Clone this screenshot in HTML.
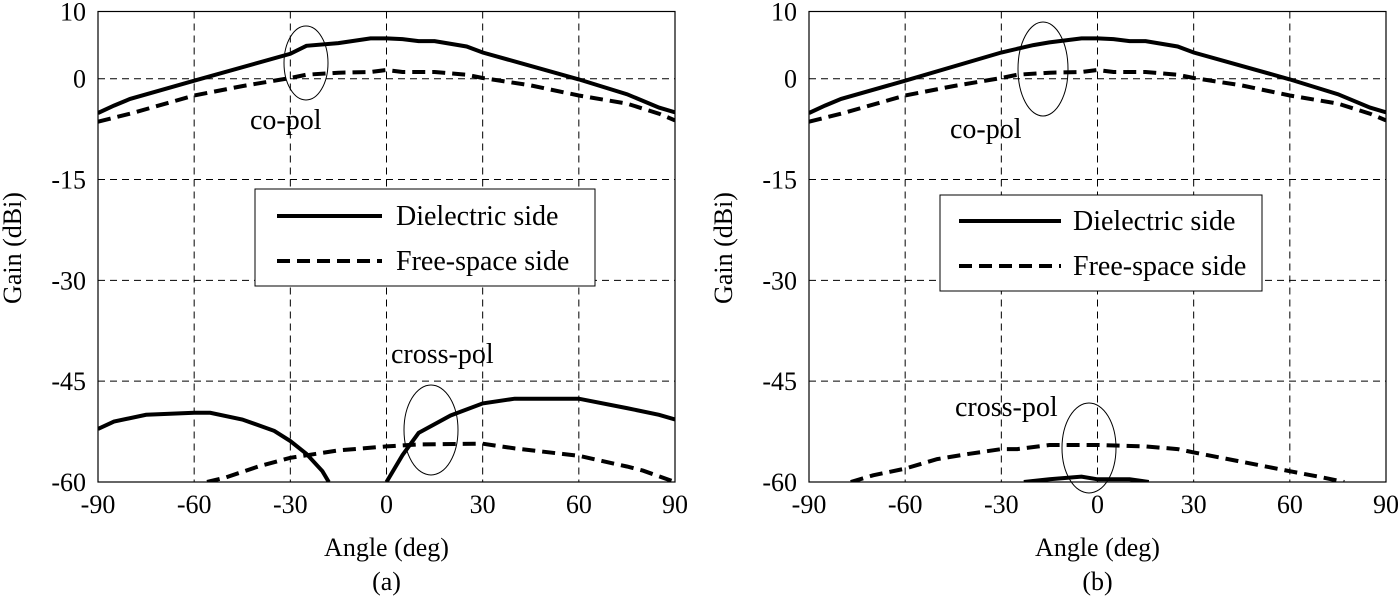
<!DOCTYPE html>
<html><head><meta charset="utf-8"><style>
html,body{margin:0;padding:0;background:#fff;}
svg{display:block;font-family:"Liberation Serif",serif;}
</style></head><body>
<svg id="chart" width="1400" height="600" viewBox="0 0 1400 600"></svg>
<script>
const angleTicks = [-90,-60,-30,0,30,60,90];
const gainTicks = [10,0,-15,-30,-45,-60];
// panel (a)
const aDielCoAng = [-90,-85,-80,-60,-30,-25,-15,-5,0,5,10,15,25,30,60,75,85,90];
const aDielCoVal = [-5.1,-4,-3,-0.3,3.7,4.9,5.3,6,6,5.9,5.6,5.6,4.8,3.9,-0.1,-2.3,-4.3,-5];
const aFreeCoAng = [-90,-80,-60,-45,-30,-25,-15,-5,0,5,15,25,30,45,60,75,85,90];
const aFreeCoVal = [-6.4,-5.2,-2.5,-1.1,0.1,0.6,0.9,1,1.3,1,1,0.6,0.1,-1,-2.5,-3.7,-5.2,-6.2];
const aDielX1Ang = [-90,-85,-75,-60,-55,-45,-35,-30,-25,-20,-18];
const aDielX1Val = [-52.1,-51,-50,-49.7,-49.7,-50.7,-52.4,-53.9,-55.8,-58.4,-60];
const aDielX2Ang = [0,5,10,20,30,40,60,75,85,90];
const aDielX2Val = [-60,-56,-52.7,-50.1,-48.3,-47.6,-47.6,-49,-50,-50.7];
const aFreeXAng = [-56,-50,-40,-30,-15,0,10,30,40,60,75,80,90];
const aFreeXVal = [-60,-59.3,-57.7,-56.4,-55.3,-54.7,-54.4,-54.3,-55,-56.1,-57.7,-58.3,-60];
// panel (b)
const bDielCoAng = [-90,-85,-80,-60,-30,-20,-15,-5,0,5,10,15,25,30,60,75,85,90];
const bDielCoVal = [-5.1,-4,-3,-0.3,3.9,5,5.4,6,6,5.9,5.6,5.6,4.8,3.9,-0.1,-2.3,-4.3,-5];
const bFreeCoAng = [-90,-80,-60,-45,-30,-25,-15,-5,0,5,15,25,30,45,60,75,85,90];
const bFreeCoVal = [-6.4,-5.2,-2.5,-1.1,0.1,0.6,0.9,1,1.3,1,1,0.6,0.1,-1,-2.5,-3.7,-5.2,-6.2];
const bFreeXAng = [-77,-70,-60,-50,-40,-30,-25,-15,0,15,25,30,45,60,70,77];
const bFreeXVal = [-60,-59,-58,-56.6,-55.8,-55.1,-55.1,-54.5,-54.5,-54.7,-55.1,-55.6,-57,-58.4,-59.3,-60];
const bDielXAng = [-23,-15,-5,0,10,16];
const bDielXVal = [-60,-59.6,-59.2,-59.6,-59.6,-60];

const NS="http://www.w3.org/2000/svg";
const svg=document.getElementById('chart');
function mk(tag,attrs,parent,text){const e=document.createElementNS(NS,tag);for(const k in attrs)e.setAttribute(k,attrs[k]);if(text!==undefined)e.textContent=text;(parent||svg).appendChild(e);return e;}

function panel(p){
  const g=mk('g',{});
  
  
  const L=p.left,R=p.left+577,T=11.5,B=482;
  const xs=a=>L+(a+90)/180*(R-L);
  const ys=v=>T+(10-v)/70*(B-T);
  const cp=mk('clipPath',{id:'clip'+p.id},g);mk('rect',{x:L,y:T-3,width:R-L,height:B-T+3},cp);
  angleTicks.forEach(a=>{
    if(a>-90&&a<90){const l=mk('line',{x1:xs(a),x2:xs(a),y1:T,y2:B,stroke:'#000','stroke-width':1,'stroke-dasharray':'7,5'},g);
    }
    const t=mk('text',{x:xs(a),y:513,'font-size':26,'text-anchor':'middle'},g,String(a));
    
  });
  gainTicks.forEach(v=>{
    if(v<10&&v>-60){const l=mk('line',{x1:L,x2:R,y1:ys(v),y2:ys(v),stroke:'#000','stroke-width':1,'stroke-dasharray':'7,5'},g);
    }
    const t=mk('text',{x:L-12,y:ys(v)+9,'font-size':26,'text-anchor':'end'},g,String(v));
    
  });
  const fr=mk('rect',{x:L,y:T,width:R-L,height:B-T,fill:'none',stroke:'#000','stroke-width':1.2},g);
  
  p.series.forEach(s=>{
    const d=s.ang.map((a,i)=>(i?'L':'M')+xs(a).toFixed(1)+','+ys(s.val[i]).toFixed(1)).join(' ');
    const e=mk('path',{d:d,fill:'none',stroke:'#000','stroke-width':4,'clip-path':'url(#clip'+p.id+')','stroke-dasharray':s.dash?'13,7':'none'},g);
    
  });
  p.ellipses.forEach(el=>{const e=mk('ellipse',{cx:el[0],cy:el[1],rx:el[2],ry:el[3],fill:'none',stroke:'#000','stroke-width':1},g);
    });
  p.labels.forEach(lb=>{const t=mk('text',{x:lb[0],y:lb[1],'font-size':28},g,lb[2]);
    });
  const lg=mk('g',{},g);
  const q=p.legend;
  mk('rect',{x:q.x,y:q.y,width:q.w,height:q.h,fill:'#fff',stroke:'#000','stroke-width':1},lg);
  const l1=mk('line',{x1:q.lx1,x2:q.lx2,y1:q.r1,y2:q.r1,stroke:'#000','stroke-width':4},lg);
  
  mk('text',{x:q.tx,y:q.r1+9,'font-size':28},lg,'Dielectric side');
  const l2=mk('line',{x1:q.lx1,x2:q.lx2,y1:q.r2,y2:q.r2,stroke:'#000','stroke-width':4,'stroke-dasharray':'13,7'},lg);
  
  mk('text',{x:q.tx,y:q.r2+9,'font-size':28},lg,'Free-space side');
  const xt=mk('text',{x:(L+R)/2,y:556,'font-size':26,'text-anchor':'middle'},g,'Angle (deg)');
  
  const yt=mk('text',{x:0,y:0,'font-size':26,'text-anchor':'middle',transform:`translate(${L-77},248) rotate(-90)`},g,'Gain (dBi)');
  
  const pl=mk('text',{x:(L+R)/2,y:590,'font-size':26,'text-anchor':'middle'},g,'('+p.id+')');
  
}
panel({id:'a',left:98,
  series:[{ang:aDielCoAng,val:aDielCoVal,name:'dielectric-copol-line'},{ang:aFreeCoAng,val:aFreeCoVal,dash:1,name:'free-space-copol-line'},
    {ang:aDielX1Ang,val:aDielX1Val,name:'dielectric-crosspol-line-left'},{ang:aDielX2Ang,val:aDielX2Val,name:'dielectric-crosspol-line-right'},
    {ang:aFreeXAng,val:aFreeXVal,dash:1,name:'free-space-crosspol-line'}],
  ellipses:[[306,63,22,37,'copol-ellipse'],[431,430,27,45,'crosspol-ellipse']],
  labels:[[250,129,'co-pol','copol-label'],[391,363,'cross-pol','crosspol-label']],
  legend:{x:255,y:189,w:340,h:97,lx1:277,lx2:382,r1:216,r2:261,tx:396}});
panel({id:'b',left:809,
  series:[{ang:bDielCoAng,val:bDielCoVal,name:'dielectric-copol-line'},{ang:bFreeCoAng,val:bFreeCoVal,dash:1,name:'free-space-copol-line'},
    {ang:bFreeXAng,val:bFreeXVal,dash:1,name:'free-space-crosspol-line'},{ang:bDielXAng,val:bDielXVal,name:'dielectric-crosspol-line'}],
  ellipses:[[1043,69,25,47,'copol-ellipse'],[1089,448,27,45,'crosspol-ellipse']],
  labels:[[950,138,'co-pol','copol-label'],[955,416,'cross-pol','crosspol-label']],
  legend:{x:940,y:195,w:322,h:96,lx1:959,lx2:1061,r1:221,r2:266,tx:1073}});
</script>
</body></html>
